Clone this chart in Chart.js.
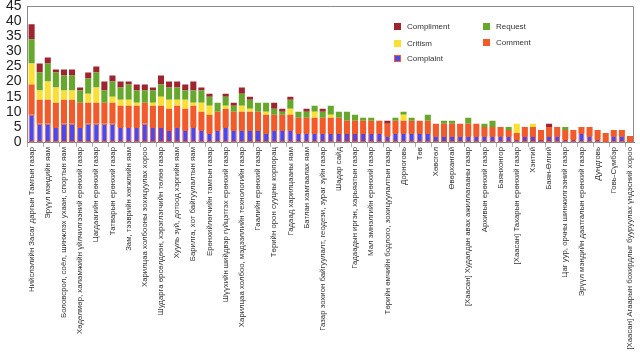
<!DOCTYPE html>
<html>
<head>
<meta charset="utf-8">
<script src="https://cdn.jsdelivr.net/npm/chart.js@4.4.1/dist/chart.umd.min.js"></script>
<style>
    html, body { margin: 0; padding: 0; background: #fff; }
    #wrap { position: relative; width: 640px; height: 353px; }
    #legend { position: absolute; left: 394px; top: 22px; width: 140px; height: 50px;
        font-family: "Liberation Sans", Arial, sans-serif; font-size: 8px; color: #333; }
    .item { position: absolute; display: flex; align-items: center; white-space: nowrap; }
    .box { width: 7px; height: 7px; margin-right: 6px; box-sizing: border-box; }
</style>
</head>
<body>
<div id="wrap">
    <canvas id="feedbackChart" width="640" height="353"></canvas>
    <div id="legend"></div>
</div>
<script>
// одоо байгаа шошгууд; хоосон нь зураг дээр харагдахгүй байгаа ангилал
const categories = [
    "Нийслэлийн Засаг даргын Тамгын газар", "",
    "Эрүүл мэндийн яам", "",
    "Боловсрол, соёл, шинжлэх ухаан, спортын яам", "",
    "Хөдөлмөр, халамжийн үйлчилгээний ерөнхий газар", "",
    "Цагдаагийн ерөнхий газар", "",
    "Татварын ерөнхий газар", "",
    "Зам, тээврийн хөгжлийн яам", "",
    "Харилцаа холбооны зохицуулах хороо", "",
    "Шударга өрсөлдөөн, хэрэглэгчийн төлөө газар", "",
    "Хууль зүй, дотоод хэргийн яам", "",
    "Барилга, хот байгуулалтын яам", "",
    "Ерөнхийлөгчийн тамгын газар", "",
    "Шүүхийн шийдвэр гүйцэтгэх ерөнхий газар", "",
    "Харилцаа холбоо, мэдээллийн технологийн газар", "",
    "Гаалийн ерөнхий газар", "",
    "Төрийн орон сууцны корпорац", "",
    "Гадаад харилцааны яам", "",
    "Батлан хамгаалах яам", "",
    "Газар зохион байгуулалт, геодези, зураг зүйн газар", "",
    "Шадар сайд", "",
    "Гадаадын иргэн, харьяатын газар", "",
    "Мал эмнэлгийн ерөнхий газар", "",
    "Төрийн өмчийн бодлого, зохицуулалтын газар", "",
    "Дорноговь", "",
    "Төв", "",
    "Хөвсгөл", "",
    "Өвөрхангай", "",
    "[Хаасан] Худалдан авах ажиллагааны газар", "",
    "Архивын ерөнхий газар", "",
    "Баянхонгор", "",
    "[Хаасан] Тахарын ерөнхий газар", "",
    "Хэнтий", "",
    "Баян-Өлгий", "",
    "Цаг уур, орчны шинжилгээний газар", "",
    "Эрүүл мэндийн даатгалын ерөнхий газар", "",
    "Дундговь", "",
    "Говь-Сүмбэр", "",
    "[Хаасан] Агаарын бохирдлыг бууруулах үндэсний хороо",
];

const complaint = [9, 6, 6, 5, 6, 6, 5, 6, 6, 6, 6, 5, 5, 5, 6, 5, 5, 4, 5, 4, 5, 4, 3, 4, 5, 4, 4, 4, 4, 3,
    4, 4, 4, 3, 3, 3, 3, 3, 3, 3, 3, 3, 3, 3, 2, 3, 3, 3, 3, 3, 2, 2, 2, 2, 2, 2, 2, 2, 2, 2,
    1, 2, 2, 1, 2, 2, 1, 1, 3, 2, 1, 0, 2, 2, 0];
const comment = [10, 8, 8, 8, 8, 8, 8, 7, 7, 7, 7, 7, 7, 7, 7, 7, 7, 7, 7, 7, 7, 6, 6, 6, 6, 6, 6, 6, 6, 6,
    5, 5, 5, 5, 5, 5, 5, 5, 5, 4, 4, 4, 4, 4, 4, 4, 4, 4, 4, 4, 4, 4, 4, 4, 4, 4, 3, 3, 3, 2,
    2, 3, 3, 3, 3, 3, 3, 3, 2, 3, 3, 3, 2, 2, 2];
const critism = [7, 3, 6, 5, 3, 3, 0, 3, 5, 0, 2, 2, 2, 1, 0, 1, 3, 3, 2, 3, 1, 3, 3, 0, 1, 0, 2, 1, 0, 1,
    0, 0, 2, 0, 0, 2, 0, 1, 0, 0, 0, 0, 0, 0, 0, 0, 2, 0, 0, 0, 0, 0, 0, 0, 0, 0, 0, 0, 0, 0,
    3, 0, 1, 0, 0, 0, 0, 0, 0, 0, 0, 0, 0, 0, 0];
const request = [8, 6, 6, 5, 5, 5, 4, 5, 5, 4, 5, 4, 5, 4, 4, 4, 4, 4, 4, 3, 4, 4, 3, 3, 3, 2, 4, 3, 3, 3,
    2, 1, 3, 2, 2, 2, 2, 3, 2, 3, 2, 1, 1, 0, 0, 1, 1, 1, 0, 2, 0, 1, 1, 0, 2, 0, 1, 2, 0, 1,
    0, 0, 0, 0, 0, 0, 1, 0, 0, 0, 0, 0, 0, 0, 0];
const compliment = [5, 3, 2, 1, 2, 2, 1, 2, 2, 3, 2, 2, 1, 2, 2, 1, 3, 2, 2, 2, 3, 1, 1, 0, 1, 1, 2, 1, 0, 0,
    2, 1, 1, 0, 1, 0, 1, 0, 0, 0, 0, 0, 0, 0, 1, 0, 0, 0, 0, 0, 0, 0, 0, 0, 0, 0, 0, 0, 0, 0,
    0, 0, 0, 0, 1, 0, 0, 0, 0, 0, 0, 0, 0, 0, 0];

const yTicks = [0, 5, 10, 15, 20, 25, 30, 35, 40, 45];

const frame = {
    id: "frame",
    afterDraw(chart) {
        const a = chart.chartArea;
        const c = chart.ctx;
        c.save();
        c.strokeStyle = "#8a8a8a";
        c.lineWidth = 1;
        c.beginPath();
        c.moveTo(a.left, a.top + 0.5);
        c.lineTo(a.right - 0.5, a.top + 0.5);
        c.lineTo(a.right - 0.5, a.bottom);
        c.stroke();
        c.restore();
    },
};

document.addEventListener("DOMContentLoaded", function () {
    const ctx = document.getElementById("feedbackChart");
    if (!ctx) return;

    const chart = new Chart(ctx, {
        type: "bar",
        data: {
            labels: categories,
            datasets: [
                {
                    label: "Complaint",
                    data: complaint,
                    backgroundColor: "#4a48f0",
                    borderColor: "#f35a2a",
                    borderWidth: 1,
                    borderSkipped: false,
                },
                {
                    label: "Comment",
                    data: comment,
                    backgroundColor: "#f35a2a",
                },
                {
                    label: "Critism",
                    data: critism,
                    backgroundColor: "#fbdf33",
                },
                {
                    label: "Request",
                    data: request,
                    backgroundColor: "#65a82b",
                },
                {
                    label: "Compliment",
                    data: compliment,
                    backgroundColor: "#9e2530",
                },
            ],
        },
        options: {
            responsive: false,
            animation: false,
            layout: {
                padding: { left: 0, right: 6, top: 0, bottom: 0 },
            },
            datasets: {
                bar: {
                    barPercentage: 0.75,
                    categoryPercentage: 1,
                },
            },
            plugins: {
                legend: { display: false },
                tooltip: { enabled: false },
            },
            scales: {
                x: {
                    stacked: true,
                    border: { display: true, color: "#8a8a8a" },
                    grid: {
                        offset: true,
                        drawOnChartArea: false,
                        tickLength: 5,
                        color: function (c) {
                            return c.index % 2 === 0 ? "#b0b0b0" : "rgba(0,0,0,0)";
                        },
                    },
                    afterFit: function (axis) {
                        axis.height = 211;
                    },
                    ticks: {
                        autoSkip: false,
                        minRotation: 90,
                        maxRotation: 90,
                        padding: 0,
                        color: "#333",
                        font: { family: "'Liberation Sans', Arial, sans-serif", size: 7.8 },
                    },
                },
                y: {
                    stacked: true,
                    min: 0,
                    max: 45,
                    border: { display: true, color: "#8a8a8a" },
                    grid: { display: false, drawTicks: false },
                    afterBuildTicks: function (axis) {
                        axis.ticks = yTicks.map(function (v) { return { value: v }; });
                    },
                    afterFit: function (axis) {
                        axis.paddingTop = 6;
                    },
                    ticks: {
                        autoSkip: false,
                        padding: 6,
                        color: "#222",
                        font: { family: "'Liberation Sans', Arial, sans-serif", size: 14 },
                    },
                },
            },
        },
        plugins: [frame],
    });

    // legend in two columns, same as in the picture
    const order = [
        ["Compliment", 0, 0], ["Critism", 0, 17], ["Complaint", 0, 32],
        ["Request", 89, 0], ["Comment", 89, 16],
    ];
    const legend = document.getElementById("legend");
    order.forEach(function (o) {
        const ds = chart.data.datasets.find(function (d) { return d.label === o[0]; });
        const item = document.createElement("div");
        item.className = "item";
        item.style.left = o[1] + "px";
        item.style.top = o[2] + "px";
        const box = document.createElement("span");
        box.className = "box";
        box.style.background = ds.backgroundColor;
        if (ds.label === "Complaint") box.style.border = "1px solid " + ds.borderColor;
        item.appendChild(box);
        item.appendChild(document.createTextNode(ds.label));
        legend.appendChild(item);
    });
});
</script>
</body>
</html>
